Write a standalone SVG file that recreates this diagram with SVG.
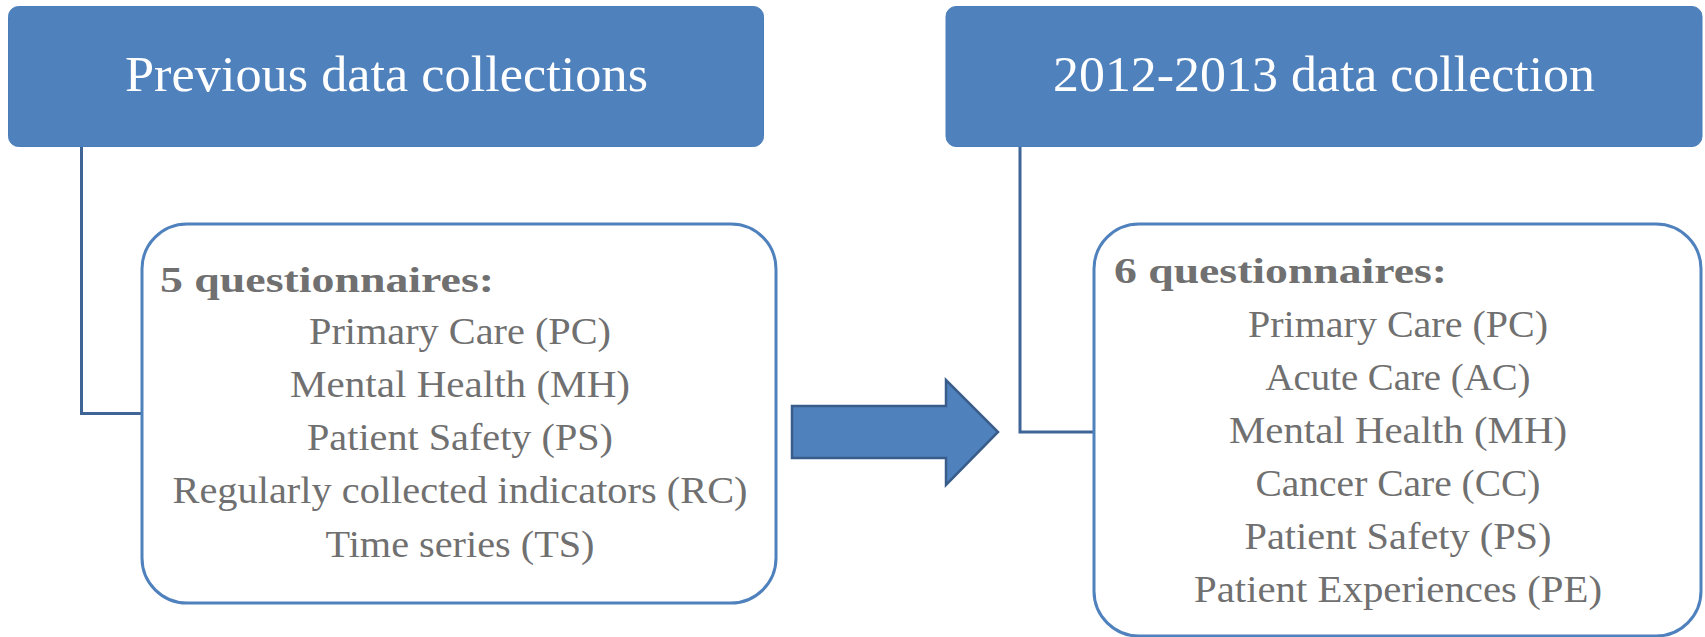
<svg xmlns="http://www.w3.org/2000/svg" width="1705" height="637" viewBox="0 0 1705 637">
<style>
.hdr{fill:#4F81BD;stroke:#4A7EBB;stroke-width:1}
.hdrt{font-family:"Liberation Serif",serif;font-size:51px;fill:#ffffff}
.box{fill:#ffffff;stroke:#4F81BD;stroke-width:3}
.tb{font-family:"Liberation Serif",serif;font-size:35px;font-weight:bold;fill:#707070}
.ti{font-family:"Liberation Serif",serif;font-size:37px;fill:#707070;text-anchor:middle}
.con{fill:none;stroke:#3F6597;stroke-width:3}
.arr{fill:#4F81BD;stroke:#385D8A;stroke-width:2.5}
</style>
<rect width="1705" height="637" fill="#ffffff"/>
<g id="connectors">
<polyline class="con" points="81.5,147 81.5,413.5 142,413.5"/>
<polyline class="con" points="1020,147 1020,432 1094,432"/>
<polygon class="arr" points="792,406 946,406 946,380 998,432 946,485 946,458 792,458"/>
</g>
<g id="prev-header">
<rect class="hdr" x="8.5" y="6.5" width="755" height="140" rx="10"/>
<text class="hdrt" x="125" y="91" textLength="523" lengthAdjust="spacingAndGlyphs">Previous data collections</text>
</g>
<g id="new-header">
<rect class="hdr" x="946" y="6.5" width="756" height="140" rx="10"/>
<text class="hdrt" x="1053" y="91" textLength="542" lengthAdjust="spacingAndGlyphs">2012-2013 data collection</text>
</g>
<g id="prev-box">
<rect class="box" x="142" y="224" width="634" height="379" rx="45"/>
<text class="tb" x="160" y="292" textLength="334" lengthAdjust="spacingAndGlyphs">5 questionnaires:</text>
<text class="ti" x="460" y="344" textLength="302" lengthAdjust="spacingAndGlyphs">Primary Care (PC)</text>
<text class="ti" x="460" y="397" textLength="340" lengthAdjust="spacingAndGlyphs">Mental Health (MH)</text>
<text class="ti" x="460" y="450" textLength="306" lengthAdjust="spacingAndGlyphs">Patient Safety (PS)</text>
<text class="ti" x="460" y="503" textLength="575" lengthAdjust="spacingAndGlyphs">Regularly collected indicators (RC)</text>
<text class="ti" x="460" y="557" textLength="269" lengthAdjust="spacingAndGlyphs">Time series (TS)</text>
</g>
<g id="new-box">
<rect class="box" x="1094" y="224" width="607" height="412" rx="45"/>
<text class="tb" x="1114" y="283" textLength="333" lengthAdjust="spacingAndGlyphs">6 questionnaires:</text>
<text class="ti" x="1398" y="337" textLength="300" lengthAdjust="spacingAndGlyphs">Primary Care (PC)</text>
<text class="ti" x="1398" y="390" textLength="265" lengthAdjust="spacingAndGlyphs">Acute Care (AC)</text>
<text class="ti" x="1398" y="443" textLength="338" lengthAdjust="spacingAndGlyphs">Mental Health (MH)</text>
<text class="ti" x="1398" y="496" textLength="285" lengthAdjust="spacingAndGlyphs">Cancer Care (CC)</text>
<text class="ti" x="1398" y="549" textLength="307" lengthAdjust="spacingAndGlyphs">Patient Safety (PS)</text>
<text class="ti" x="1398" y="602" textLength="408" lengthAdjust="spacingAndGlyphs">Patient Experiences (PE)</text>
</g>
</svg>
